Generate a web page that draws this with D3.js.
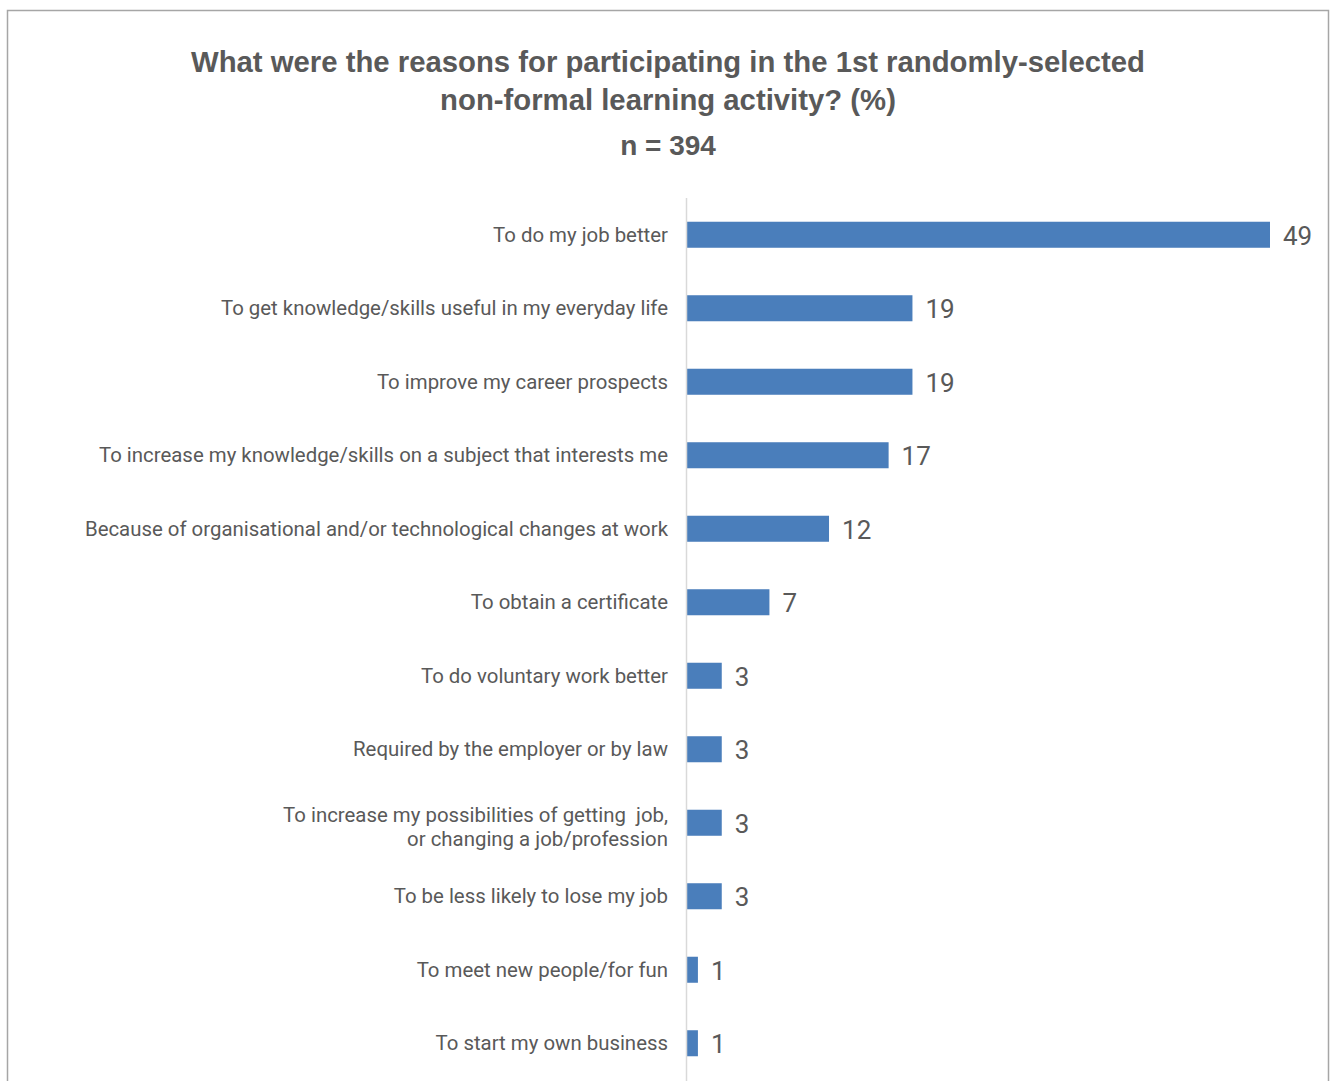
<!DOCTYPE html>
<html>
<head>
<meta charset="utf-8">
<script src="https://cdn.jsdelivr.net/npm/d3@7"></script>
<style>
  html, body { margin: 0; padding: 0; background: #fff; }
  svg { display: block; font-family: "Liberation Sans", Arial, sans-serif; }
  .cat, .val { font-family: Roboto, "Liberation Sans", Arial, sans-serif; }
  .cat tspan { white-space: pre; }
</style>
</head>
<body>
<svg id="chart" width="1330" height="1081"></svg>
<script>
// Reasons for participating in a non-formal learning activity (%)
const categories = [
  ["To do my job better"],
  ["To get knowledge/skills useful in my everyday life"],
  ["To improve my career prospects"],
  ["To increase my knowledge/skills on a subject that interests me"],
  ["Because of organisational and/or technological changes at work"],
  ["To obtain a certificate"],
  ["To do voluntary work better"],
  ["Required by the employer or by law"],
  ["To increase my possibilities of getting  job,", "or changing a job/profession"],
  ["To be less likely to lose my job"],
  ["To meet new people/for fun"],
  ["To start my own business"]
];
const values = [49, 19, 19, 17, 12, 7, 3, 3, 3, 3, 1, 1];
const titleLines = ["What were the reasons for participating in the 1st randomly-selected", "non-formal learning activity? (%)"];
const subtitle = "n = 394";

const svg = d3.select("#chart");

// outer frame
svg.append("rect")
  .attr("x", 7.5).attr("y", 10.5)
  .attr("width", 1321).attr("height", 1090)
  .attr("fill", "#fff").attr("stroke", "#a6a6a6").attr("stroke-width", 1.5);

// title
const cx = 668;
svg.selectAll("text.title").data(titleLines).join("text")
  .attr("class", "title")
  .attr("x", cx).attr("y", (d, i) => 72 + i * 38)
  .attr("text-anchor", "middle")
  .attr("font-size", 29.3).attr("font-weight", "bold")
  .attr("fill", "#595959")
  .text(d => d);
svg.append("text")
  .attr("x", cx).attr("y", 155)
  .attr("text-anchor", "middle")
  .attr("font-size", 28).attr("font-weight", "bold")
  .attr("fill", "#595959")
  .text(subtitle);

const x0 = 686;
const x = d3.scaleLinear().domain([0, 49]).range([x0, 1270]);
const y = d3.scaleBand()
  .domain(d3.range(categories.length))
  .range([198, 1080])
  .paddingInner(0.646)
  .paddingOuter(0.323);

// bars
svg.selectAll("rect.bar").data(values).join("rect")
  .attr("class", "bar")
  .attr("x", x(0))
  .attr("y", (d, i) => y(i))
  .attr("width", d => x(d) - x(0))
  .attr("height", y.bandwidth())
  .attr("fill", "#4a7ebb");

// value labels
svg.selectAll("text.val").data(values).join("text")
  .attr("class", "val")
  .attr("x", d => x(d) + 13)
  .attr("y", (d, i) => y(i) + y.bandwidth() / 2 + 10)
  .attr("font-size", 26)
  .attr("fill", "#595959")
  .text(d => d);

// category labels
const labels = svg.selectAll("text.cat").data(categories).join("text")
  .attr("class", "cat")
  .attr("text-anchor", "end")
  .attr("font-size", 20.4)
  .attr("fill", "#595959");
labels.each(function(lines, i) {
  const cy = y(i) + y.bandwidth() / 2;
  const n = lines.length;
  const t = d3.select(this);
  const shift = n > 1 ? 11 : 7;
  lines.forEach((ln, k) => {
    t.append("tspan")
      .attr("x", 668)
      .attr("y", cy + shift + (k - (n - 1) / 2) * 24)
      .text(ln);
  });
});

// category axis line
svg.append("line")
  .attr("x1", x0 + 0.5).attr("x2", x0 + 0.5)
  .attr("y1", 198).attr("y2", 1081)
  .attr("stroke", "#d9d9d9").attr("stroke-width", 1.5);
</script>
</body>
</html>
